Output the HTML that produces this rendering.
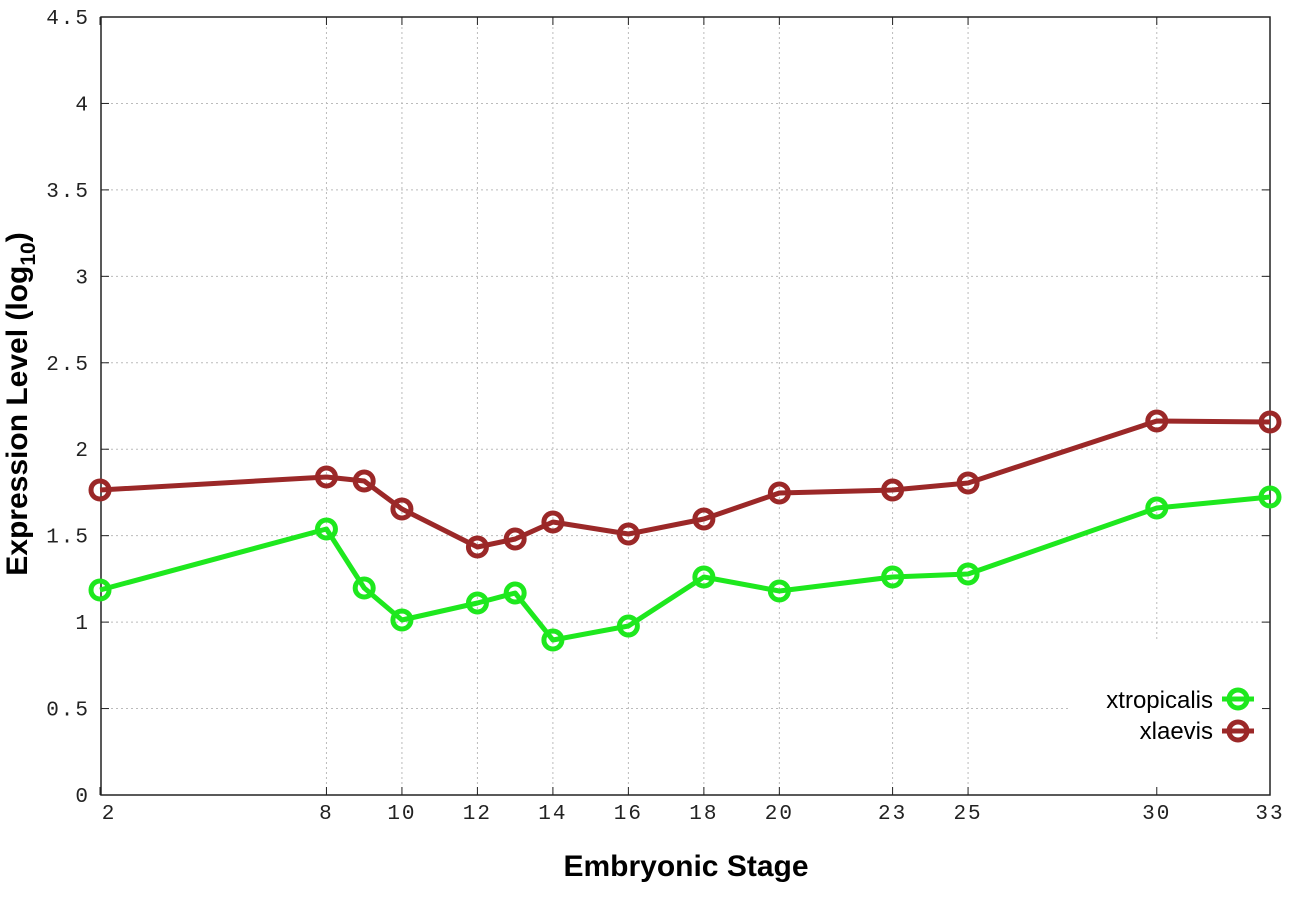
<!DOCTYPE html>
<html><head><style>
html,body{margin:0;padding:0;background:#fff;}
svg{display:block}
.t{font-family:"Liberation Mono",monospace;font-size:21px;fill:#222}
</style></head><body>
<svg id="s" width="1296" height="907" xmlns="http://www.w3.org/2000/svg">
</svg>
<script>
var s=document.getElementById('s'),h='';
var L=101,R=1270,T=17,B=795;
function X(v){return 100+(v-2)*(1170/31);}
function Y(v){return B-v*(B-T)/4.5;}
var xs=[2,8,9,10,12,13,14,16,18,20,23,25,30,33];
var lx=[2,8,10,12,14,16,18,20,23,25,30,33];
for(var i=1;i<9;i++){var y=Y(i*0.5);var xe=(i==1)?1070:R;h+='<line x1="'+L+'" y1="'+y+'" x2="'+xe+'" y2="'+y+'" stroke="#bbb" stroke-width="1" stroke-dasharray="2,3"/>';}
lx.forEach(function(v){if(v==2||v==33)return;var x=X(v);h+='<line x1="'+x+'" y1="'+T+'" x2="'+x+'" y2="'+(v==30?640:B)+'" stroke="#bbb" stroke-width="1" stroke-dasharray="2,3"/>';});
h+='<rect x="'+L+'" y="'+T+'" width="'+(R-L)+'" height="'+(B-T)+'" fill="none" stroke="#222" stroke-width="1.5"/>';
for(var i=0;i<=9;i++){var y=Y(i*0.5);h+='<line x1="'+L+'" y1="'+y+'" x2="'+(L+8)+'" y2="'+y+'" stroke="#222"/><line x1="'+R+'" y1="'+y+'" x2="'+(R-8)+'" y2="'+y+'" stroke="#222"/>';
var lab=(i%2==0)?String(i/2):(Math.floor(i/2)+'.5');
h+='<text class="t" x="90" y="'+(y+7)+'" text-anchor="end" letter-spacing="2">'+lab+'</text>';}
lx.forEach(function(v){var x=X(v);h+='<line x1="'+x+'" y1="'+B+'" x2="'+x+'" y2="'+(B-8)+'" stroke="#222"/><line x1="'+x+'" y1="'+T+'" x2="'+x+'" y2="'+(T+8)+'" stroke="#222"/>';
var ax=v==2?109:(v==33?1270:x);h+='<text class="t" x="'+ax+'" y="819" text-anchor="middle" letter-spacing="2">'+v+'</text>';});
function series(ys,c){var p=xs.map(function(v,i){return X(v)+','+ys[i]}).join(' ');
h+='<polyline points="'+p+'" fill="none" stroke="'+c+'" stroke-width="5" stroke-linejoin="round"/>';
xs.forEach(function(v,i){h+='<circle cx="'+X(v)+'" cy="'+ys[i]+'" r="9" fill="none" stroke="'+c+'" stroke-width="5"/>';});}
series([490,477,481,509,547,539,522,534,519,493,490,483,421,422],'#9b2828');
series([590,529,588,620,603,593,640,626,577,591,577,574,508,497],'#1ee81e');
h+='<text x="1213" y="708" text-anchor="end" font-family="Liberation Sans,sans-serif" font-size="24">xtropicalis</text>';
h+='<text x="1213" y="739" text-anchor="end" font-family="Liberation Sans,sans-serif" font-size="24">xlaevis</text>';
h+='<line x1="1222" y1="699" x2="1254" y2="699" stroke="#1ee81e" stroke-width="5"/><circle cx="1238" cy="699" r="9" fill="none" stroke="#1ee81e" stroke-width="5"/>';
h+='<line x1="1222" y1="731" x2="1254" y2="731" stroke="#9b2828" stroke-width="5"/><circle cx="1238" cy="731" r="9" fill="none" stroke="#9b2828" stroke-width="5"/>';
h+='<text x="686" y="876" text-anchor="middle" font-family="Liberation Sans,sans-serif" font-weight="bold" font-size="30">Embryonic Stage</text>';
h+='<text transform="translate(27,404) rotate(-90)" text-anchor="middle" font-family="Liberation Sans,sans-serif" font-weight="bold" font-size="30">Expression Level (log<tspan font-size="21" dy="8">10</tspan><tspan dy="-8">)</tspan></text>';
s.innerHTML=h;
</script>
</body></html>
